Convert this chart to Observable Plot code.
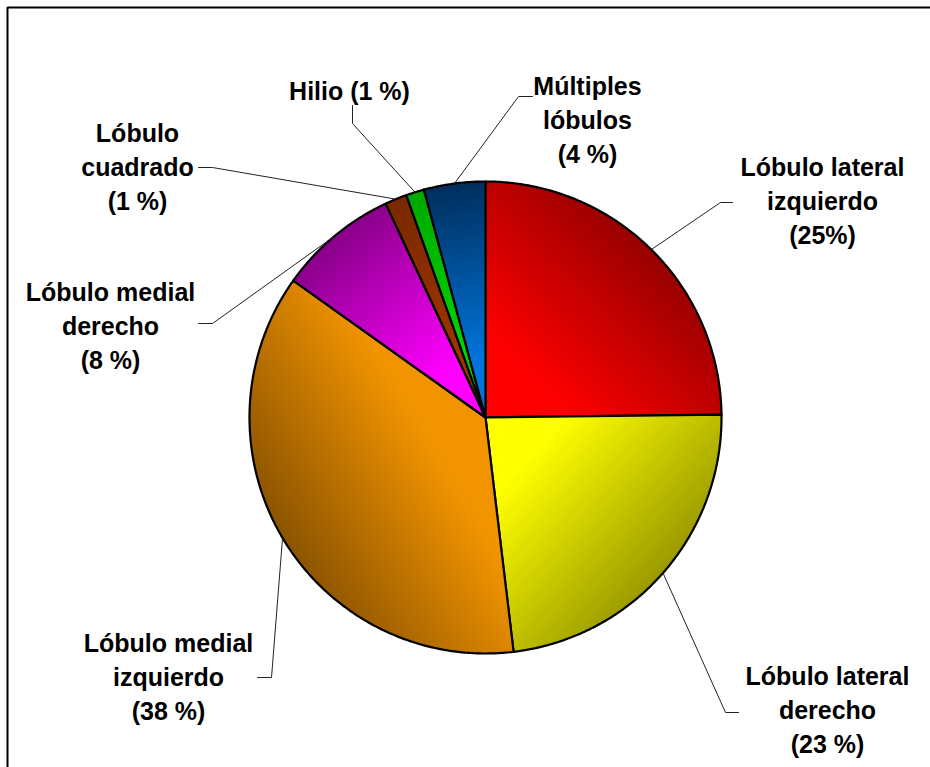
<!DOCTYPE html>
<html><head><meta charset="utf-8">
<script src="https://cdn.jsdelivr.net/npm/d3@7"></script>
<script src="https://cdn.jsdelivr.net/npm/@observablehq/plot@0.6"></script>
<style>html,body{margin:0;padding:0;overflow:hidden;background:#fff}#chart svg{display:block}</style>
</head><body><div id="chart"></div>
<script>
// ---- data ----
const categories = ["Lóbulo lateral izquierdo", "Lóbulo lateral derecho", "Lóbulo medial izquierdo", "Lóbulo medial derecho", "Lóbulo cuadrado", "Hilio", "Múltiples lóbulos"];
const values = [24.8, 23.3, 36.75, 8.2, 1.5, 1.25, 4.2];
const labels = ["Lóbulo lateral\nizquierdo\n(25%)", "Lóbulo lateral\nderecho\n(23 %)", "Lóbulo medial\nizquierdo\n(38 %)", "Lóbulo medial\nderecho\n(8 %)", "Lóbulo\ncuadrado\n(1 %)", "Hilio (1 %)", "Múltiples\nlóbulos\n(4 %)"];
const colorsLight = ["#ff0000", "#ffff00", "#f29400", "#ff00ff", "#a03400", "#00d800", "#0074d9"];
const colorsDark = ["#980000", "#9a9a00", "#8c5400", "#880088", "#7a2800", "#00a800", "#002e5c"];

// ---- layout (pixels) ----
const CX = 485, CY = 417, R = 236;
const BORDER = 7;
const labelPos = [[822, 199], [827, 708], [168, 675], [110, 324], [137, 165], [349, 89], [587, 118]];
const leaderElbow = [[720, 202], [725, 712], [271, 677], [212, 323], [212, 167], [352, 123], [518, 96]];
const leaderEnd = [[732, 202], [738, 712], [257, 677], [198, 323], [198, 167], [352, 105], [532, 96]];
const ux = p => (p - CX) / R, uy = p => (CY - p) / R;

const arcs = d3.pie().sort(null).value(d => d)(values);
const slices = arcs.map((a, i) => {
  const pts = [{x: 0, y: 0}];
  const n = Math.max(4, Math.ceil((a.endAngle - a.startAngle) / (Math.PI / 360)));
  for (let k = 0; k <= n; k++) {
    const t = a.startAngle + (a.endAngle - a.startAngle) * k / n;
    pts.push({x: Math.sin(t), y: Math.cos(t)});
  }
  pts.push({x: 0, y: 0});
  return pts;
});
const leaders = arcs.flatMap((a, i) => {
  const m = (a.startAngle + a.endAngle) / 2;
  return [
    {i, x: Math.sin(m), y: Math.cos(m)},
    {i, x: ux(leaderElbow[i][0]), y: uy(leaderElbow[i][1])},
    {i, x: ux(leaderEnd[i][0]), y: uy(leaderEnd[i][1])}
  ];
});
const labelData = labels.map((t, i) => ({text: t, x: ux(labelPos[i][0]), y: uy(labelPos[i][1])}));
const border = [{x: ux(BORDER), y: uy(780)}, {x: ux(BORDER), y: uy(BORDER)}, {x: ux(945), y: uy(BORDER)}];

const plot = Plot.plot({
  width: 930, height: 767,
  margin: 0,
  x: {domain: [-1, 1], range: [CX - R, CX + R], axis: null},
  y: {domain: [-1, 1], range: [CY + R, CY - R], axis: null},
  style: {background: "white", overflow: "hidden"},
  marks: [
    Plot.line(border, {x: "x", y: "y", stroke: "black", strokeWidth: 2, strokeLinejoin: "miter"}),
    ...slices.map((pts, i) => Plot.line(pts, {x: "x", y: "y", fill: `url(#grad${i})`, stroke: "black", strokeWidth: 2.2, strokeLinejoin: "round"})),
    Plot.line(leaders, {x: "x", y: "y", z: "i", stroke: "#222", strokeWidth: 1}),
    Plot.text(labelData, {x: "x", y: "y", text: "text", fontSize: 25, fontWeight: "bold", fontFamily: "Liberation Sans, Arial, sans-serif", lineHeight: 1.36, lineAnchor: "middle", textAnchor: "middle", fill: "black"})
  ]
});

const sx = plot.scale("x"), sy = plot.scale("y");
const defs = d3.select(plot).insert("defs", ":first-child");
arcs.forEach((a, i) => {
  const m = (a.startAngle + a.endAngle) / 2;
  const g = defs.append("linearGradient").attr("id", `grad${i}`).attr("gradientUnits", "userSpaceOnUse")
    .attr("x1", sx.apply(0)).attr("y1", sy.apply(0))
    .attr("x2", sx.apply(Math.sin(m))).attr("y2", sy.apply(Math.cos(m)));
  g.append("stop").attr("offset", "0").attr("stop-color", colorsLight[i]);
  g.append("stop").attr("offset", "0.25").attr("stop-color", colorsLight[i]);
  g.append("stop").attr("offset", "1").attr("stop-color", colorsDark[i]);
});
document.getElementById("chart").append(plot);
</script></body></html>
